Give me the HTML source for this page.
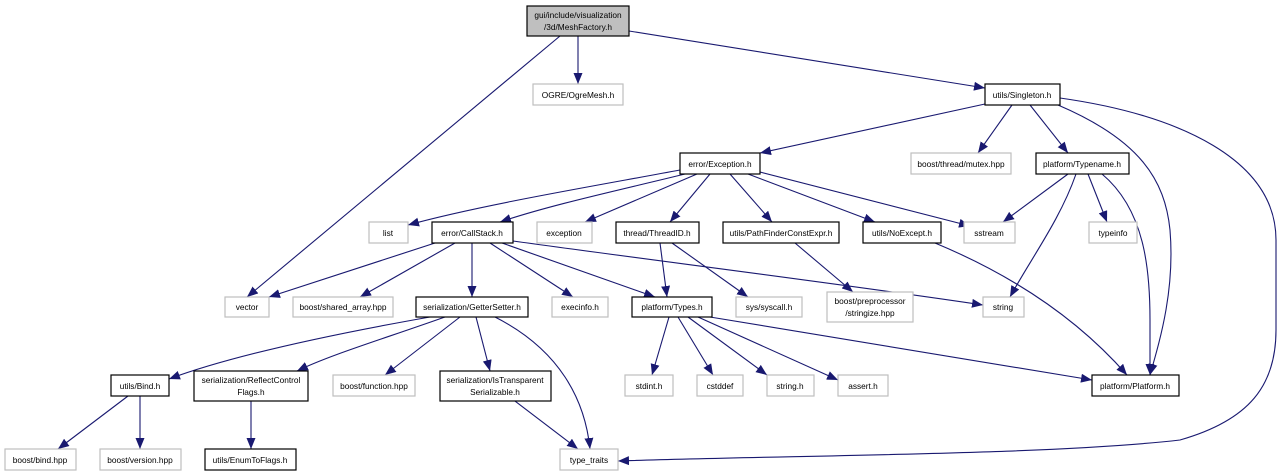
<!DOCTYPE html>
<html><head><meta charset="utf-8"><style>
html,body{margin:0;padding:0;background:#fff;}
svg{display:block;}
text{font-family:"Liberation Sans",sans-serif;font-size:8.3px;fill:#000;text-anchor:middle;}
.b{fill:#fff;stroke:#000;stroke-width:1.2;}
.g{fill:#fff;stroke:#bfbfbf;stroke-width:1.2;}
.e{fill:none;stroke:#191970;stroke-width:1.1;}
</style></head><body>
<svg width="1283" height="476" viewBox="0 0 1283 476" xmlns="http://www.w3.org/2000/svg">
<defs><marker id="a" markerUnits="userSpaceOnUse" markerWidth="12" markerHeight="10" refX="11" refY="4.5" orient="auto"><path d="M0,0 L11,4.5 L0,9 Z" fill="#191970"/></marker></defs>
<g class="e" marker-end="url(#a)">
<path d="M560,36 L247,297"/>
<path d="M578,36 L578,84"/>
<path d="M629,31 L985,88"/>
<path d="M985,104 L760,153"/>
<path d="M1012,105 L978,153"/>
<path d="M1030,105 L1068,153"/>
<path d="M1058,105 C1140,140 1165,180 1170,230 C1175,290 1160,340 1150,375"/>
<path d="M1060,98 C1180,115 1276,160 1276,240 L1276,330 C1276,385 1250,420 1180,440 C1050,455 800,455 618,461"/>
<path d="M680,170 C600,185 480,205 408,225"/>
<path d="M685,174 C620,190 550,205 500,222"/>
<path d="M697,174 L585,222"/>
<path d="M710,174 L670,222"/>
<path d="M730,174 L772,222"/>
<path d="M748,174 L875,222"/>
<path d="M760,172 L970,226"/>
<path d="M1068,174 L1003,222"/>
<path d="M1076,174 C1060,220 1030,260 1010,297"/>
<path d="M1088,174 L1107,222"/>
<path d="M1102,174 C1145,210 1150,270 1150,320 L1150,375"/>
<path d="M435,243 L269,297"/>
<path d="M455,243 L360,297"/>
<path d="M472,243 L472,297"/>
<path d="M490,243 L573,297"/>
<path d="M502,243 L655,297"/>
<path d="M513,241 C650,260 850,285 983,305"/>
<path d="M660,243 L667,297"/>
<path d="M672,243 L748,297"/>
<path d="M795,243 L853,292"/>
<path d="M935,243 C1000,270 1070,310 1127,375"/>
<path d="M430,317 C300,340 220,360 169,379"/>
<path d="M445,317 C380,340 330,355 297,371"/>
<path d="M460,317 L385,375"/>
<path d="M476,317 L490,371"/>
<path d="M495,317 C560,350 585,400 590,449"/>
<path d="M669,317 L652,375"/>
<path d="M678,317 L713,375"/>
<path d="M688,317 L767,375"/>
<path d="M698,317 L838,380"/>
<path d="M710,317 L1092,380"/>
<path d="M128,396 L58,449"/>
<path d="M140,396 L140,449"/>
<path d="M251,401 L251,449"/>
<path d="M515,401 L578,449"/>
</g>
<rect x="527" y="6" width="102" height="30" fill="#bfbfbf" stroke="#000" stroke-width="1.2"/>
<text x="578" y="18">gui/include/visualization</text><text x="578" y="30">/3d/MeshFactory.h</text>
<rect class="g" x="533" y="84" width="90" height="21"/><text x="578" y="98">OGRE/OgreMesh.h</text>
<rect class="b" x="985" y="84" width="75" height="21"/><text x="1022" y="98">utils/Singleton.h</text>
<rect class="b" x="680" y="153" width="80" height="21"/><text x="720" y="167">error/Exception.h</text>
<rect class="g" x="911" y="153" width="100" height="21"/><text x="961" y="167">boost/thread/mutex.hpp</text>
<rect class="b" x="1036" y="153" width="93" height="21"/><text x="1082" y="167">platform/Typename.h</text>
<rect class="g" x="369" y="222" width="39" height="21"/><text x="388" y="236">list</text>
<rect class="b" x="432" y="222" width="81" height="21"/><text x="472" y="236">error/CallStack.h</text>
<rect class="g" x="537" y="222" width="55" height="21"/><text x="564" y="236">exception</text>
<rect class="b" x="616" y="222" width="83" height="21"/><text x="657" y="236">thread/ThreadID.h</text>
<rect class="b" x="723" y="222" width="116" height="21"/><text x="781" y="236">utils/PathFinderConstExpr.h</text>
<rect class="b" x="863" y="222" width="78" height="21"/><text x="902" y="236">utils/NoExcept.h</text>
<rect class="g" x="964" y="222" width="51" height="21"/><text x="989" y="236">sstream</text>
<rect class="g" x="1089" y="222" width="48" height="21"/><text x="1113" y="236">typeinfo</text>
<rect class="g" x="225" y="297" width="44" height="20"/><text x="247" y="310">vector</text>
<rect class="g" x="293" y="297" width="100" height="20"/><text x="343" y="310">boost/shared_array.hpp</text>
<rect class="b" x="416" y="297" width="112" height="20"/><text x="472" y="310">serialization/GetterSetter.h</text>
<rect class="g" x="552" y="297" width="56" height="20"/><text x="580" y="310">execinfo.h</text>
<rect class="b" x="632" y="297" width="80" height="20"/><text x="672" y="310">platform/Types.h</text>
<rect class="g" x="736" y="297" width="66" height="20"/><text x="769" y="310">sys/syscall.h</text>
<rect class="g" x="827" y="292" width="86" height="30"/><text x="870" y="304">boost/preprocessor</text><text x="870" y="316">/stringize.hpp</text>
<rect class="g" x="983" y="297" width="41" height="20"/><text x="1003" y="310">string</text>
<rect class="b" x="111" y="375" width="58" height="21"/><text x="140" y="389">utils/Bind.h</text>
<rect class="b" x="194" y="371" width="114" height="30"/><text x="251" y="383">serialization/ReflectControl</text><text x="251" y="395">Flags.h</text>
<rect class="g" x="333" y="375" width="82" height="21"/><text x="374" y="389">boost/function.hpp</text>
<rect class="b" x="440" y="371" width="111" height="30"/><text x="495" y="383">serialization/IsTransparent</text><text x="495" y="395">Serializable.h</text>
<rect class="g" x="625" y="375" width="48" height="21"/><text x="649" y="389">stdint.h</text>
<rect class="g" x="697" y="375" width="46" height="21"/><text x="720" y="389">cstddef</text>
<rect class="g" x="767" y="375" width="47" height="21"/><text x="790" y="389">string.h</text>
<rect class="g" x="838" y="375" width="50" height="21"/><text x="863" y="389">assert.h</text>
<rect class="b" x="1092" y="375" width="87" height="21"/><text x="1135" y="389">platform/Platform.h</text>
<rect class="g" x="5" y="449" width="71" height="21"/><text x="40" y="463">boost/bind.hpp</text>
<rect class="g" x="100" y="449" width="81" height="21"/><text x="140" y="463">boost/version.hpp</text>
<rect class="b" x="205" y="449" width="91" height="21"/><text x="250" y="463">utils/EnumToFlags.h</text>
<rect class="g" x="560" y="449" width="58" height="21"/><text x="589" y="463">type_traits</text>
</svg>
</body></html>
